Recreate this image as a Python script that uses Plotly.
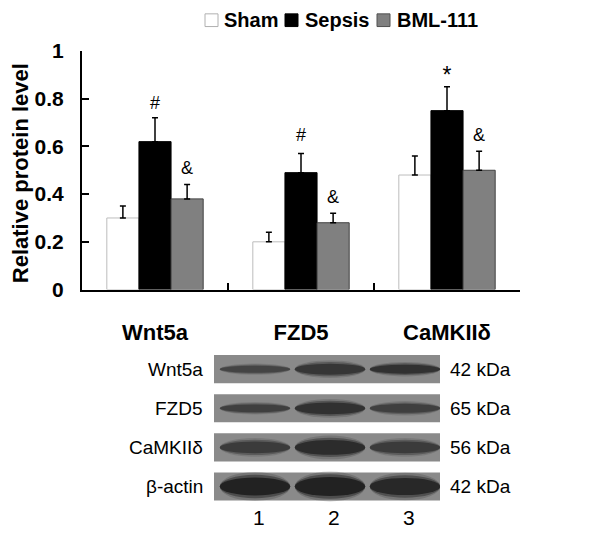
import plotly.graph_objects as go

# ---------------- data ----------------
categories = ["Wnt5a", "FZD5", "CaMKIIδ"]
groups = ["Sham", "Sepsis", "BML-111"]
sham = [0.30, 0.20, 0.48]
sham_err = [0.05, 0.04, 0.08]
sepsis = [0.62, 0.49, 0.75]
sepsis_err = [0.10, 0.08, 0.10]
bml = [0.38, 0.28, 0.50]
bml_err = [0.06, 0.04, 0.08]
sepsis_marks = ["#", "#", "*"]
sepsis_mark_y = [0.775, 0.64, 0.89]
bml_marks = ["&", "&", "&"]
bml_mark_y = [0.505, 0.38, 0.64]
y_ticks = [0, 0.2, 0.4, 0.6, 0.8, 1]

blot_rows = ["Wnt5a", "FZD5", "CaMKIIδ", "β-actin"]
blot_kda = ["42 kDa", "65 kDa", "56 kDa", "42 kDa"]
lanes = [1, 2, 3]
# band thickness (relative) and grey level of each band, read from the blot
band_thickness = [[0.18, 0.28, 0.23],
                  [0.20, 0.30, 0.23],
                  [0.30, 0.38, 0.30],
                  [0.46, 0.48, 0.44]]
band_grey = [[65, 50, 45],
             [60, 45, 60],
             [55, 40, 55],
             [30, 30, 35]]

FONT = "Liberation Sans, Arial, sans-serif"
W, H = 600, 533
ML, MR, MT, MB = 74, 88, 43, 0
PW, PH = W - ML - MR, H - MT - MB


def px(xp):
    return (xp - ML) / PW


def py(yp):
    return 1 - (yp - MT) / PH


fig = go.Figure()

bar_styles = [
    dict(color="white", line=dict(color="#bdbdbd", width=1)),
    dict(color="black", line=dict(color="black", width=1)),
    dict(color="#808080", line=dict(color="#404040", width=1)),
]
for name, vals, errs, st in zip(groups, [sham, sepsis, bml],
                                [sham_err, sepsis_err, bml_err], bar_styles):
    fig.add_trace(go.Bar(
        x=categories, y=vals, name=name, marker=st, offsetgroup=name,
        error_y=dict(type="data", array=errs, arrayminus=[0] * len(errs),
                     symmetric=False, color="black", thickness=1.5, width=3),
        showlegend=False, xaxis="x", yaxis="y"))

# significance marks, grouped like the bars
mark_sizes = [[18, 18, 18], [18, 18, 23], [18, 18, 18]]
for name, txt, yy, sz in zip(groups,
                             [[""] * 3, sepsis_marks, bml_marks],
                             [[0] * 3, sepsis_mark_y, bml_mark_y], mark_sizes):
    fig.add_trace(go.Scatter(
        x=categories, y=yy, text=txt, mode="text", offsetgroup=name,
        textfont=dict(family=FONT, size=sz, color="black"),
        textposition="middle center", showlegend=False, hoverinfo="skip",
        xaxis="x", yaxis="y"))

# ---------------- blot ----------------
shapes = []
for r, row in enumerate(blot_rows):
    shapes.append(dict(type="rect", xref="x2 domain", yref="y2",
                       x0=0, x1=1, y0=r - 0.36, y1=r + 0.36,
                       fillcolor="#8a8a8a", line=dict(width=0), layer="below"))
    for li, lane in enumerate(lanes):
        t = band_thickness[r][li]
        g = band_grey[r][li]
        for k, (sc, op) in enumerate([(1.6, 0.2), (1.3, 0.45), (1.0, 0.9)]):
            shapes.append(dict(type="circle", xref="x2", yref="y2",
                               x0=lane - 0.47, x1=lane + 0.47,
                               y0=r - t * sc / 2, y1=r + t * sc / 2,
                               fillcolor=f"rgb({g},{g},{g})", opacity=op,
                               line=dict(width=0), layer="below"))

annotations = []
for r, (lab, kda) in enumerate(zip(blot_rows, blot_kda)):
    annotations.append(dict(text=lab, xref="x2 domain", yref="y2", x=-0.04, y=r,
                            xanchor="right", yanchor="middle", showarrow=False,
                            font=dict(family=FONT, size=19, color="black")))
    annotations.append(dict(text=kda, xref="x2 domain", yref="y2", x=1.035, y=r,
                            xanchor="left", yanchor="middle", showarrow=False,
                            font=dict(family=FONT, size=19, color="black")))
for lane in lanes:
    annotations.append(dict(text=str(lane), xref="x2", yref="y2", x=lane + 0.05, y=3.8,
                            xanchor="center", yanchor="middle", showarrow=False,
                            font=dict(family=FONT, size=21, color="black")))

# y-axis title
annotations.append(dict(text="Relative protein level", xref="paper", yref="paper",
                        x=px(12), y=py(168), textangle=-90, showarrow=False,
                        xanchor="center", yanchor="middle",
                        font=dict(family=FONT, size=22, color="black", weight="bold")))

# ---------------- manual legend ----------------
leg_sq = [(197, "white", "#b0b0b0"), (277, "black", "black"), (369, "#808080", "#505050")]
leg_tx = [214, 295, 387]
for (x0, fc, lc), tx, name in zip(leg_sq, leg_tx, groups):
    shapes.append(dict(type="rect", xref="paper", yref="paper",
                       x0=px(x0), x1=px(x0 + 13), y0=py(18), y1=py(5),
                       fillcolor=fc, line=dict(color=lc, width=1)))
    annotations.append(dict(text=name, xref="paper", yref="paper", x=px(tx), y=py(11.5),
                            xanchor="left", yanchor="middle", showarrow=False,
                            font=dict(family=FONT, size=20, color="black", weight="bold")))

fig.update_layout(
    width=W, height=H,
    margin=dict(l=ML, r=MR, t=MT, b=MB, pad=0),
    paper_bgcolor="white", plot_bgcolor="white",
    barmode="group", bargap=0.34, bargroupgap=0,
    scattermode="group", scattergap=0.34,
    font=dict(family=FONT, color="black"),
    xaxis=dict(domain=[0, 1], anchor="y", type="category",
               showline=True, linecolor="black", linewidth=2,
               ticks="inside", ticklen=7, tickwidth=1.5, tickcolor="black",
               tickson="boundaries", showgrid=False, zeroline=False,
               ticklabelstandoff=22,
               tickfont=dict(family=FONT, size=22, color="black", weight="bold")),
    yaxis=dict(domain=[py(287), 1], anchor="x", range=[0, 1],
               tickvals=y_ticks, ticktext=[f"{v:g}" for v in y_ticks],
               showline=True, linecolor="black", linewidth=2,
               ticks="inside", ticklen=7, tickwidth=1.5, tickcolor="black",
               showgrid=False, zeroline=False, ticklabelstandoff=12,
               tickfont=dict(family=FONT, size=21, color="black", weight="bold")),
    xaxis2=dict(domain=[px(206), px(432)], anchor="y2", range=[0.453, 3.467],
                visible=False, fixedrange=True),
    yaxis2=dict(domain=[0, py(340)], anchor="x2", range=[4.1125, -0.7125],
                visible=False, fixedrange=True),
    shapes=shapes, annotations=annotations,
)

fig.write_html("out.html")
